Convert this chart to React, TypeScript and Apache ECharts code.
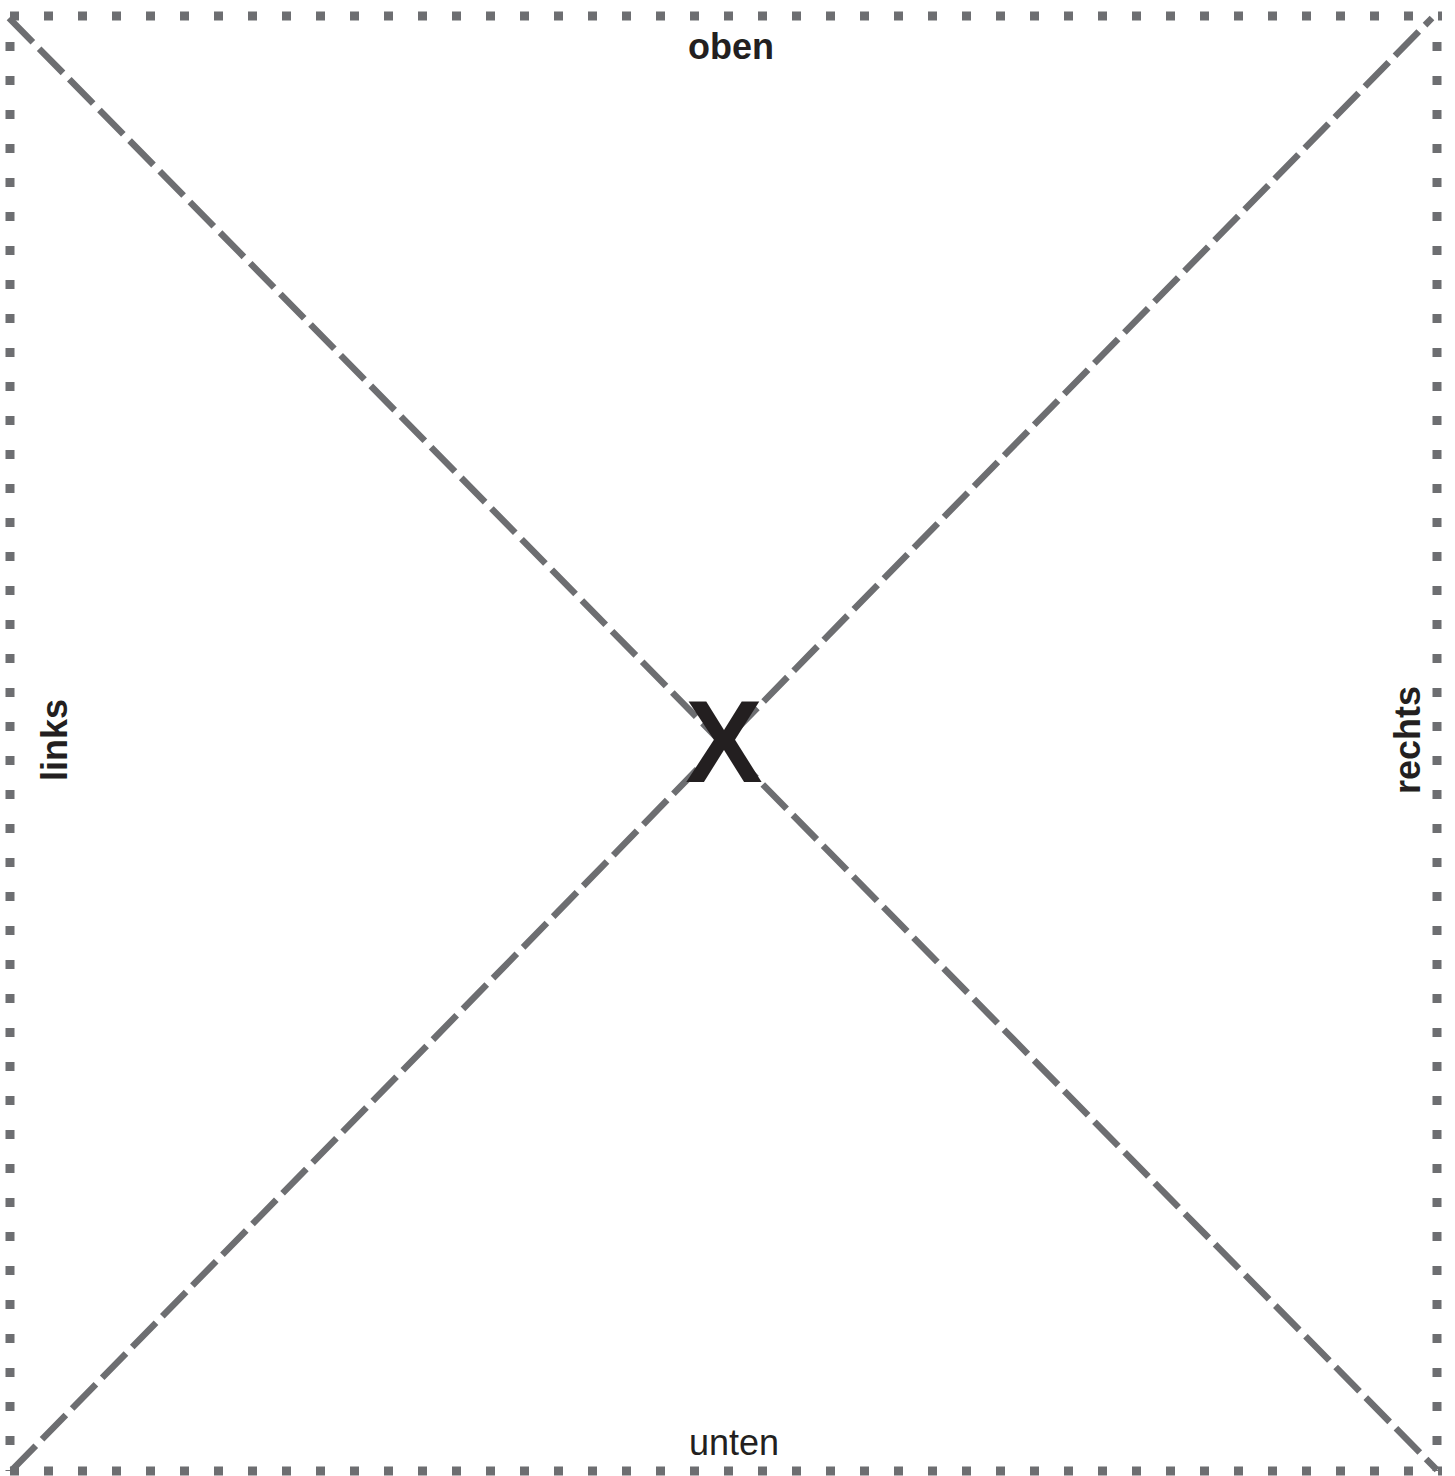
import React, { useEffect, useRef } from "react";
import * as echarts from "echarts";

const edgeLabels = ["oben", "unten", "links", "rechts"];
const centerLabel = "X";

const W = 1455;
const H = 1476;

export default function App() {
  const ref = useRef<HTMLDivElement>(null);
  useEffect(() => {
    document.body.style.margin = "0";
    if (!ref.current) return;
    const chart = echarts.init(ref.current, null, { renderer: "svg" });
    const L = 10, T = 16, R = 1437, B = 1471;
    const lineColor = "#6d6e71";
    const textColor = "#231f20";
    const font = "Liberation Sans, Arial, Helvetica, sans-serif";
    const dot = { stroke: lineColor, lineWidth: 9, lineDash: [9, 25], fill: "none" };
    const dash = { stroke: lineColor, lineWidth: 6.5, lineDash: [34, 9] };
    chart.setOption({
      animation: false,
      backgroundColor: "#ffffff",
      graphic: [
        { type: "line", shape: { x1: L, y1: T, x2: R + 5, y2: T }, style: dot },
        { type: "line", shape: { x1: L, y1: B, x2: R + 5, y2: B }, style: dot },
        { type: "line", shape: { x1: L, y1: T + 26, x2: L, y2: B }, style: dot },
        { type: "line", shape: { x1: R, y1: T + 26, x2: R, y2: B }, style: dot },
        { type: "line", shape: { x1: 9, y1: 18, x2: 1437, y2: 1470 }, style: dash },
        { type: "line", shape: { x1: 12, y1: 1470, x2: 1432, y2: 18 }, style: dash },
        {
          type: "text", x: 731, y: 46,
          style: { text: edgeLabels[0], font: `bold 36px ${font}`, fill: textColor, textAlign: "center", textVerticalAlign: "middle" },
        },
        {
          type: "text", x: 734, y: 1442,
          style: { text: edgeLabels[1], font: `36px ${font}`, fill: textColor, textAlign: "center", textVerticalAlign: "middle" },
        },
        {
          type: "text", x: 54, y: 740, rotation: Math.PI / 2,
          style: { text: edgeLabels[2], font: `bold 36px ${font}`, fill: textColor, textAlign: "center", textVerticalAlign: "middle" },
        },
        {
          type: "text", x: 1407, y: 740, rotation: Math.PI / 2,
          style: { text: edgeLabels[3], font: `bold 36px ${font}`, fill: textColor, textAlign: "center", textVerticalAlign: "middle" },
        },
        {
          type: "text", x: 724, y: 742,
          style: { text: centerLabel, font: `bold 116px ${font}`, fill: textColor, textAlign: "center", textVerticalAlign: "middle" },
        },
      ],
    });
    return () => chart.dispose();
  }, []);
  return <div ref={ref} style={{ width: W, height: H }} />;
}
